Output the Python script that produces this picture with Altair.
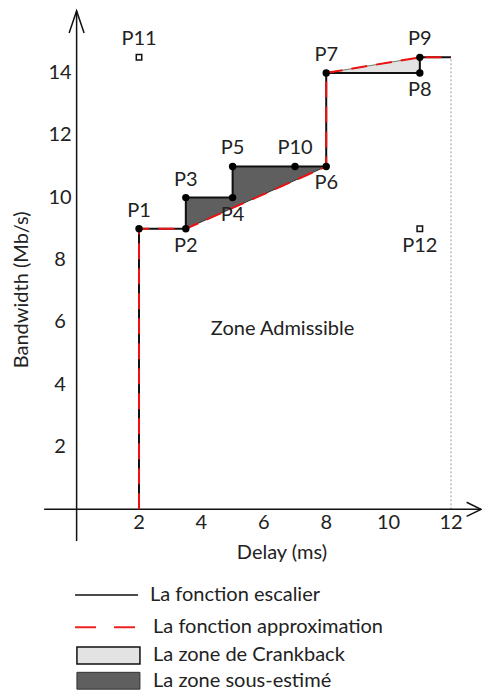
import altair as alt
import pandas as pd

# ---------------- data ----------------
stair_x = [2, 2, 3.5, 3.5, 5, 5, 8, 8, 11, 11, 12]
stair_y = [0, 9, 9, 10, 10, 11, 11, 14, 14, 14.5, 14.5]
approx_x = [2, 2, 3.5, 8, 8, 11, 12]
approx_y = [0, 9, 9, 11, 14, 14.5, 14.5]
pt_names = ["P1", "P2", "P3", "P4", "P5", "P10", "P6", "P7", "P8", "P9"]
pt_x = [2, 3.5, 3.5, 5, 5, 7, 8, 8, 11, 11]
pt_y = [9, 9, 10, 10, 11, 11, 11, 14, 14, 14.5]
pt_side = ["above", "below", "above", "below", "above", "above", "below", "above", "below", "above"]
open_names = ["P11", "P12"]
open_x = [2, 11]
open_y = [14.5, 9]
open_side = ["above", "below"]
under_x = [3.5, 3.5, 5, 5, 8, 3.5]
under_y = [9, 10, 10, 11, 11, 9]
crank_x = [8, 11, 11, 8]
crank_y = [14, 14, 14.5, 14]
x_ticks = [2, 4, 6, 8, 10, 12]
y_ticks = [2, 4, 6, 8, 10, 12, 14]
zone_label = "Zone Admissible"
x_title = "Delay (ms)"
y_title = "Bandwidth (Mb/s)"
legend_labels = ["La fonction escalier", "La fonction approximation",
                 "La zone de Crankback", "La zone sous-estimé"]

# ---------------- layout ----------------
FONT = "Lato"
FS = 20
TXT = "#222222"
W, H = 474, 683
XD = [-2.199, 12.993]
YD = [-5.829, 16.083]

xs = alt.Scale(domain=XD, nice=False, zero=False)
ys = alt.Scale(domain=YD, nice=False, zero=False)


def X(f="x"):
    return alt.X(f"{f}:Q", scale=xs, axis=None)


def Y(f="y"):
    return alt.Y(f"{f}:Q", scale=ys, axis=None)


stair = pd.DataFrame({"x": stair_x, "y": stair_y, "i": range(len(stair_x))})
approx = pd.DataFrame({"x": approx_x, "y": approx_y, "i": range(len(approx_x))})
pts = pd.DataFrame({"name": pt_names, "x": pt_x, "y": pt_y, "side": pt_side})
opn = pd.DataFrame({"name": open_names, "x": open_x, "y": open_y, "side": open_side})
under = pd.DataFrame({"x": under_x, "y": under_y, "i": range(len(under_x))})
crank = pd.DataFrame({"x": crank_x, "y": crank_y, "i": range(len(crank_x))})

# filled regions
under_layer = alt.Chart(under).mark_line(
    fill="#5f5f5f", stroke="#333333", strokeWidth=1, interpolate="linear"
).encode(x=X(), y=Y(), order="i:Q")
crank_layer = alt.Chart(crank).mark_line(
    fill="#e3e3e3", stroke="#777766", strokeWidth=1
).encode(x=X(), y=Y(), order="i:Q")

# functions
stair_layer = alt.Chart(stair).mark_line(color="#111111", strokeWidth=2).encode(
    x=X(), y=Y(), order="i:Q")
approx_layer = alt.Chart(approx).mark_line(
    color="#ee1111", strokeWidth=2, strokeDash=[16, 9]
).encode(x=X(), y=Y(), order="i:Q")

# dotted boundary at x = 12
bound = pd.DataFrame({"x": [stair_x[-1]], "y": [0], "y2": [stair_y[-1]]})
bound_layer = alt.Chart(bound).mark_rule(
    color="#999999", strokeWidth=1, strokeDash=[2, 2]
).encode(x=X(), y=Y(), y2="y2:Q")

# axes
axes = pd.DataFrame({"x": [0, -1.04], "x2": [0, 12.96], "y": [-1.02, 0], "y2": [15.99, 0]})
axes_layer = alt.Chart(axes).mark_rule(color="#111111", strokeWidth=1.5).encode(
    x=X(), x2="x2:Q", y=Y(), y2="y2:Q")
arrows = pd.DataFrame({
    "a": ["v", "v", "v", "h", "h", "h"],
    "i": [0, 1, 2, 0, 1, 2],
    "x": [-0.24, 0, 0.24, 12.5, 12.96, 12.5],
    "y": [15.28, 15.99, 15.28, 0.225, 0, -0.225],
})
arrow_layer = alt.Chart(arrows).mark_line(color="#111111", strokeWidth=1.5).encode(
    x=X(), y=Y(), detail="a:N", order="i:Q")

xt = pd.DataFrame({"x": x_ticks, "y": [-0.45] * len(x_ticks), "t": [str(v) for v in x_ticks]})
yt = pd.DataFrame({"x": [-0.53] * len(y_ticks), "y": y_ticks, "t": [str(v) for v in y_ticks]})
tick_x_layer = alt.Chart(xt).mark_text(font=FONT, fontSize=FS, color=TXT, baseline="middle").encode(
    x=X(), y=Y(), text="t:N")
tick_y_layer = alt.Chart(yt).mark_text(font=FONT, fontSize=FS, color=TXT, baseline="middle").encode(
    x=X(), y=Y(), text="t:N")

titles = pd.DataFrame({"x": [6.58, 6.6], "y": [-1.40, 5.8], "t": [x_title, zone_label]})
title_layer = alt.Chart(titles).mark_text(font=FONT, fontSize=FS, color=TXT, baseline="middle").encode(
    x=X(), y=Y(), text="t:N")
ytitle = pd.DataFrame({"x": [-1.75], "y": [7.04], "t": [y_title]})
ytitle_layer = alt.Chart(ytitle).mark_text(font=FONT, fontSize=FS, color=TXT, baseline="middle",
                                           angle=270).encode(x=X(), y=Y(), text="t:N")

# points
pt_layer = alt.Chart(pts).mark_point(filled=True, shape="circle", size=55, color="#000000", opacity=1).encode(
    x=X(), y=Y())
open_layer = alt.Chart(opn).mark_point(shape="square", size=30, color="#111111", strokeWidth=1.5,
                                        filled=False, opacity=1).encode(x=X(), y=Y())
allpts = pd.concat([pts, opn])
lab_above = alt.Chart(allpts).transform_filter(alt.datum.side == "above").mark_text(
    font=FONT, fontSize=FS, color=TXT, baseline="middle", dy=-18).encode(x=X(), y=Y(), text="name:N")
lab_below = alt.Chart(allpts).transform_filter(alt.datum.side == "below").mark_text(
    font=FONT, fontSize=FS, color=TXT, baseline="middle", dy=17).encode(x=X(), y=Y(), text="name:N")

# legend
ly = [-2.75, -3.78, -4.68, -5.5]
leg_lines = pd.DataFrame({"x": [-0.05], "x2": [1.97], "y": [ly[0]]})
leg_line1 = alt.Chart(leg_lines).mark_rule(color="#111111", strokeWidth=1.5).encode(
    x=X(), x2="x2:Q", y=Y())
leg_dash = pd.DataFrame({"x": [-0.05], "x2": [1.97], "y": [ly[1]]})
leg_line2 = alt.Chart(leg_dash).mark_rule(color="#ee2222", strokeWidth=2, strokeDash=[21, 18]).encode(
    x=X(), x2="x2:Q", y=Y())
box1 = pd.DataFrame({"x": [0.01], "x2": [2.03], "y": [-4.42], "y2": [-4.96]})
box1_layer = alt.Chart(box1).mark_rect(fill="#e3e3e3", stroke="#111111", strokeWidth=1.5).encode(
    x=X(), x2="x2:Q", y=Y(), y2="y2:Q")
box2 = pd.DataFrame({"x": [0.01], "x2": [2.03], "y": [-5.23], "y2": [-5.77]})
box2_layer = alt.Chart(box2).mark_rect(fill="#5f5f5f", stroke="#333333", strokeWidth=1).encode(
    x=X(), x2="x2:Q", y=Y(), y2="y2:Q")
leg_txt = pd.DataFrame({"x": [2.35, 2.45, 2.45, 2.45], "y": ly, "t": legend_labels})
leg_txt_layer = alt.Chart(leg_txt).mark_text(font=FONT, fontSize=FS, color=TXT, baseline="middle",
                                             align="left").encode(x=X(), y=Y(), text="t:N")

chart = alt.layer(
    under_layer, crank_layer, bound_layer, axes_layer, arrow_layer,
    stair_layer, approx_layer, pt_layer, open_layer,
    tick_x_layer, tick_y_layer, title_layer, ytitle_layer, lab_above, lab_below,
    leg_line1, leg_line2, box1_layer, box2_layer, leg_txt_layer,
).properties(
    width=W, height=H, autosize=alt.AutoSizeParams(type="none"), padding=0,
    background="white",
).configure_view(stroke=None)

chart.save("out.html", embed_options={"renderer": "svg", "actions": False})
